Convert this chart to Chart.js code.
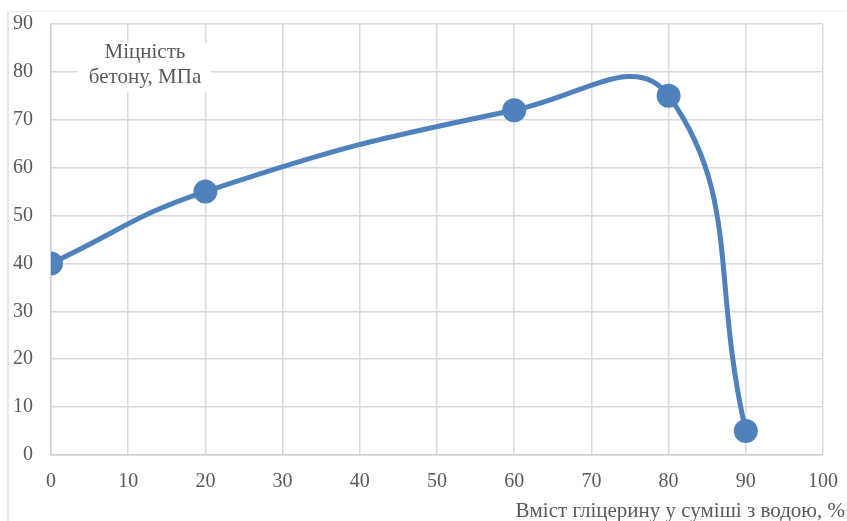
<!DOCTYPE html>
<html lang="uk">
<head>
    <meta charset="UTF-8">
    <title>Міцність бетону</title>
    <script src="https://cdn.jsdelivr.net/npm/chart.js"></script>
    <style>
        body {
            margin: 0;
            padding: 0;
            background: #ffffff;
            overflow: hidden;
        }

        .chart-box {
            position: relative;
            width: 847px;
            height: 521px;
        }

        .frame {
            position: absolute;
            left: 7px;
            top: 11px;
            right: 0;
            bottom: 0;
            border-left: 2px solid #e6e6e6;
            border-top: 1px solid #f0f0f0;
            pointer-events: none;
        }
    </style>
</head>
<body>
    <div class="chart-box">
        <canvas id="strengthChart" width="847" height="521"></canvas>
        <div class="frame"></div>
    </div>

    <script>
        // glycerin share in the mix, % and concrete strength, MPa
        const glycerin = [0, 20, 60, 80, 90];
        const strength = [40, 55, 72, 75, 5];
        const xTicks = [0, 10, 20, 30, 40, 50, 60, 70, 80, 90, 100];
        const yTicks = [0, 10, 20, 30, 40, 50, 60, 70, 80, 90];

        const yTitle = ['Міцність', 'бетону, МПа'];
        const xTitle = 'Вміст гліцерину у суміші з водою, %';

        const fontFamily = '"Liberation Serif", "Times New Roman", serif';
        const lineColor = '#4f81bd';

        const titles = {
            id: 'titles',
            afterDraw(chart) {
                const ctx = chart.ctx;
                ctx.save();
                ctx.font = '21px ' + fontFamily;

                // y title sits inside the plot on a white patch
                const cx = 145;
                ctx.fillStyle = '#ffffff';
                ctx.fillRect(78, 43, 133, 49);
                ctx.fillStyle = '#595959';
                ctx.textAlign = 'center';
                ctx.textBaseline = 'alphabetic';
                ctx.fillText(yTitle[0], cx, 58);
                ctx.fillText(yTitle[1], cx, 83);

                ctx.textAlign = 'right';
                ctx.fillText(xTitle, 845, 517);
                ctx.restore();
            }
        };

        const ctx = document.getElementById('strengthChart').getContext('2d');
        new Chart(ctx, {
            type: 'scatter',
            data: {
                datasets: [{
                    data: glycerin.map((x, i) => ({ x: x, y: strength[i] })),
                    showLine: true,
                    borderColor: lineColor,
                    backgroundColor: lineColor,
                    borderWidth: 5,
                    tension: 0.45,
                    pointRadius: 12,
                    pointHoverRadius: 12,
                    pointBorderWidth: 0
                }]
            },
            options: {
                responsive: false,
                animation: false,
                layout: { padding: { top: 24, right: 24, bottom: 0, left: 0 } },
                plugins: {
                    legend: { display: false },
                    tooltip: { enabled: false }
                },
                scales: {
                    x: {
                        type: 'linear',
                        min: 0,
                        max: 100,
                        afterBuildTicks: s => { s.ticks = xTicks.map(v => ({ value: v })); },
                        afterFit: s => { s.height = 66; s.paddingLeft = 0; s.paddingRight = 0; },
                        grid: { color: '#d9d9d9', lineWidth: 1.5, drawTicks: false },
                        border: { color: '#d0d0d0', width: 1.5 },
                        ticks: {
                            padding: 15,
                            color: '#595959',
                            font: { family: fontFamily, size: 20 }
                        }
                    },
                    y: {
                        min: 0,
                        max: 90,
                        afterBuildTicks: s => { s.ticks = yTicks.map(v => ({ value: v })); },
                        afterFit: s => { s.width = 51; s.paddingTop = 0; s.paddingBottom = 0; },
                        grid: { color: '#d9d9d9', lineWidth: 1.5, drawTicks: false },
                        border: { color: '#d0d0d0', width: 1.5 },
                        ticks: {
                            padding: 18,
                            color: '#595959',
                            font: { family: fontFamily, size: 20 }
                        }
                    }
                }
            },
            plugins: [titles]
        });
    </script>
</body>
</html>
